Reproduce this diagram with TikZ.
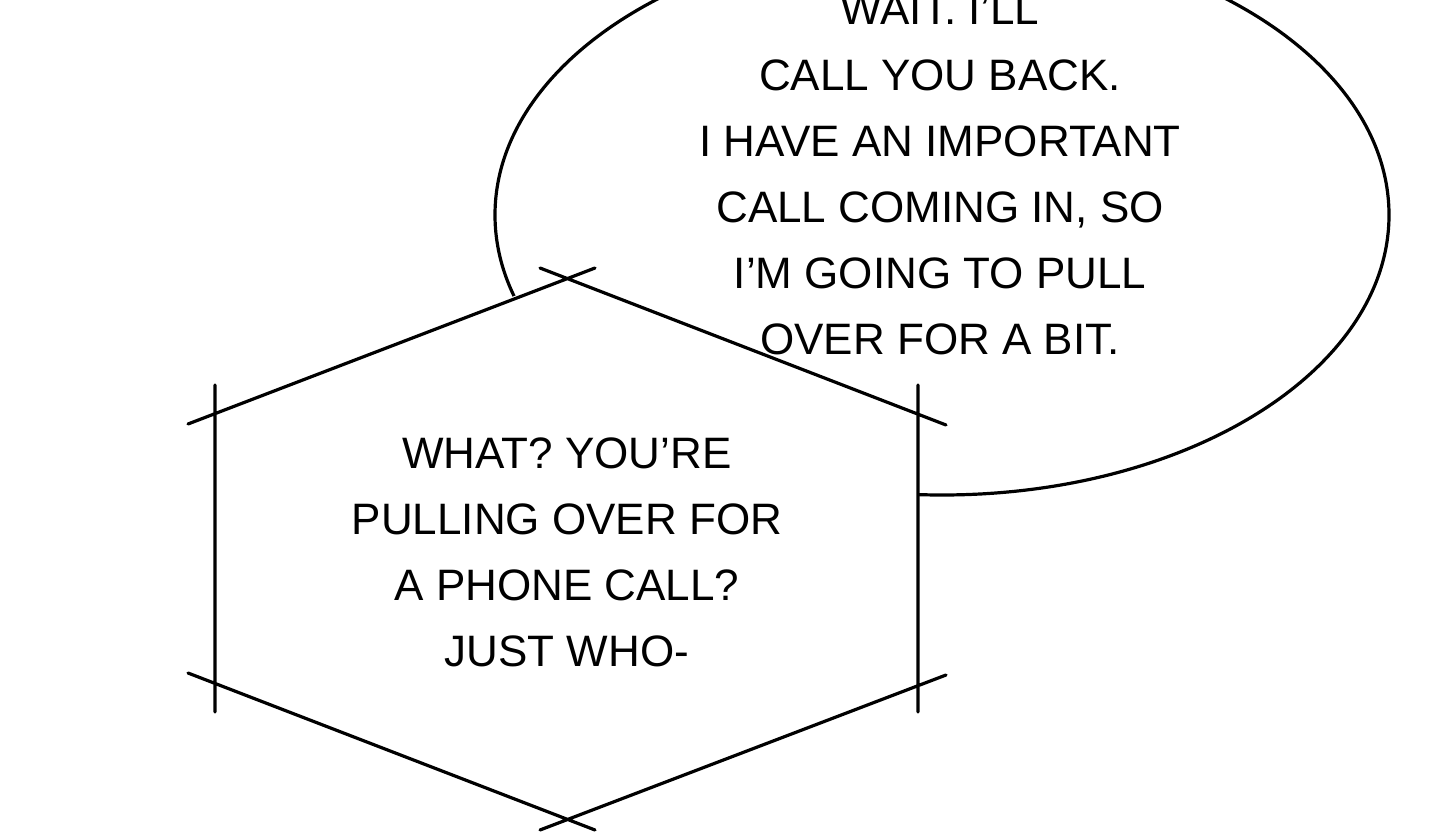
\documentclass[tikz,border=0pt]{standalone}
\usepackage{fontspec}
\setmainfont{Liberation Sans}
\usetikzlibrary{positioning}
\tikzset{
  bubbletext/.style={align=center, font=\fontsize{44}{66}\selectfont, inner sep=0pt},
  panel line/.style={line width=3.2pt, line cap=round}
}
\begin{document}
\begin{tikzpicture}[x=1pt, y=-1pt]
  \useasboundingbox (0, 0) rectangle (1440, 837);
  \clip (0, 0) rectangle (1440, 837);
  \fill[white] (0, 0) rectangle (1440, 837);

  % oval bubble
  \draw[panel line, fill=white] (942, 215) ellipse [x radius=447, y radius=280];
  \node[bubbletext] (ovaltext) at (940, 175) {WAIT. I'LL\\CALL YOU BACK.\\I HAVE AN IMPORTANT\\CALL COMING IN, SO\\I'M GOING TO PULL\\OVER FOR A BIT.};

  % hexagon bubble
  \coordinate (top) at (567, 276);
  \coordinate (ul) at (215, 410);
  \coordinate (ll) at (215, 688);
  \coordinate (bot) at (567, 822);
  \coordinate (lr) at (918, 688);
  \coordinate (ur) at (918, 410);
  \fill[white] (top) -- (ul) -- (ll) -- (bot) -- (lr) -- (ur) -- cycle;
  \draw[panel line]
    (188, 424) -- (595, 268)
    (540, 268) -- (946, 425)
    (215, 385) -- (215, 712)
    (918, 385) -- (918, 712)
    (188, 673) -- (595, 830)
    (540, 830) -- (946, 675);
  \node[bubbletext] (hextext) at (567, 552) {WHAT? YOU'RE\\PULLING OVER FOR\\A PHONE CALL?\\JUST WHO-};
\end{tikzpicture}
\end{document}
